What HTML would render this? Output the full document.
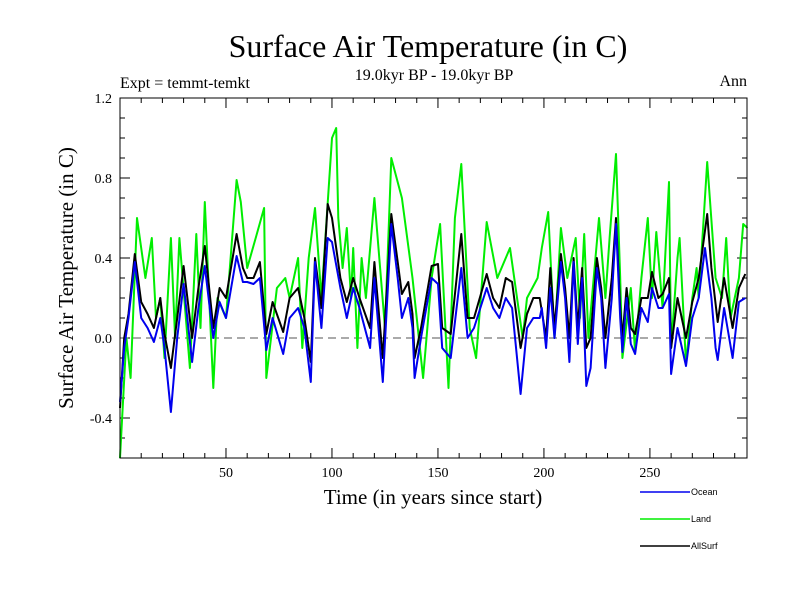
<!DOCTYPE html>
<html><head><meta charset="utf-8"><style>
body{margin:0;background:#fff;}
svg text{font-family:"Liberation Serif",serif;fill:#000;}
</style></head><body>
<svg id="chart" width="800" height="600" xmlns="http://www.w3.org/2000/svg">
<text x="428" y="57" font-size="32" text-anchor="middle">Surface Air Temperature (in C)</text>
<text x="434" y="80" font-size="16" text-anchor="middle">19.0kyr BP - 19.0kyr BP</text>
<text x="120" y="88" font-size="16">Expt = temmt-temkt</text>
<text x="747" y="86" font-size="16" text-anchor="end">Ann</text>
<text x="433" y="504" font-size="21" text-anchor="middle">Time (in years since start)</text>
<text transform="translate(73,278) rotate(-90)" font-size="21" text-anchor="middle">Surface Air Temperature (in C)</text>
<g id="ticks"></g>
<g id="series"></g>
<rect x="120" y="98" width="627" height="360" fill="none" stroke="#000" stroke-width="1"/>
<g id="legend"></g>
</svg>
<script>
const oceanYears=[0,2,4,7,10,13,16,19,21,24,27,30,34,37,40,44,47,50,55,58,60,63,66,69,72,77,80,84,87,90,92,95,98,100,104,107,110,113,118,120,124,128,131,133,136,138,139,142,147,150,152,156,161,164,167,173,176,179,182,185,189,192,195,198,199,201,203,205,208,210,212,214,216,218,220,222,225,227,229,232,234,236,237,239,241,243,246,249,251,254,256,259,260,263,267,270,273,276,279,281,282,285,289,292,295];
const oceanVals=[-0.32,-0.05,0.1,0.38,0.1,0.05,-0.02,0.1,-0.05,-0.37,0.0,0.27,-0.12,0.15,0.36,0.0,0.18,0.1,0.41,0.28,0.28,0.27,0.3,-0.06,0.1,-0.08,0.1,0.15,0.05,-0.22,0.38,0.05,0.5,0.48,0.25,0.1,0.25,0.15,-0.05,0.3,-0.22,0.57,0.3,0.1,0.2,0.05,-0.2,0.0,0.3,0.27,-0.05,-0.1,0.35,0.0,0.05,0.25,0.15,0.1,0.2,0.15,-0.28,0.05,0.1,0.1,0.15,-0.05,0.25,0.0,0.38,0.2,-0.12,0.38,-0.03,0.3,-0.24,-0.15,0.35,0.2,-0.15,0.2,0.57,0.1,-0.07,0.2,-0.03,-0.08,0.15,0.08,0.25,0.15,0.15,0.22,-0.18,0.05,-0.14,0.1,0.2,0.45,0.2,-0.05,-0.11,0.15,-0.1,0.18,0.2];
const landYears=[0,3,5,8,12,15,17,19,21,24,26,28,33,36,38,40,44,46,50,55,57,60,64,68,69,74,78,80,84,86,89,92,95,100,102,103,105,107,109,110,112,114,116,120,125,128,133,138,143,147,151,155,158,161,165,168,173,178,184,190,192,197,199,202,205,208,211,215,217,219,221,226,229,231,234,236,237,241,243,246,249,251,253,256,259,260,263,264,267,270,272,273,277,281,284,286,288,292,294,296];
const landVals=[-0.6,0.0,-0.2,0.6,0.3,0.5,0.1,0.2,-0.1,0.5,0.0,0.5,-0.15,0.52,0.05,0.68,-0.25,0.2,0.1,0.79,0.68,0.35,0.5,0.65,-0.2,0.25,0.3,0.2,0.4,-0.05,0.4,0.65,0.2,1.0,1.05,0.6,0.35,0.55,0.2,0.45,-0.05,0.4,0.2,0.7,0.05,0.9,0.7,0.3,-0.2,0.3,0.57,-0.25,0.6,0.87,0.05,-0.1,0.58,0.3,0.45,0.0,0.2,0.3,0.45,0.63,0.0,0.55,0.3,0.5,0.1,0.52,0.0,0.6,0.2,0.5,0.92,0.3,-0.1,0.25,-0.07,0.3,0.6,0.2,0.53,0.15,0.78,-0.05,0.4,0.5,-0.13,0.2,0.35,0.2,0.88,0.3,0.2,0.5,0.1,0.3,0.57,0.55];
const allYears=[0,2,4,7,10,13,16,19,21,24,27,30,34,37,40,44,47,50,55,58,60,63,66,69,72,77,80,84,87,90,92,95,98,100,104,107,110,113,118,120,124,128,131,133,136,138,139,142,147,150,152,156,161,164,167,173,176,179,182,185,189,192,195,198,201,203,205,208,210,212,214,216,218,220,222,225,227,229,232,234,236,237,239,241,243,246,249,251,254,256,259,260,263,267,270,273,277,279,282,285,289,292,295];
const allVals=[-0.35,0.0,0.12,0.42,0.18,0.12,0.05,0.2,0.02,-0.15,0.1,0.36,0.0,0.25,0.46,0.05,0.25,0.2,0.52,0.35,0.3,0.3,0.38,0.02,0.18,0.03,0.2,0.25,0.1,-0.12,0.4,0.15,0.67,0.6,0.3,0.18,0.3,0.2,0.05,0.38,-0.1,0.62,0.38,0.22,0.28,0.12,-0.1,0.05,0.36,0.37,0.05,0.02,0.52,0.1,0.1,0.32,0.2,0.15,0.3,0.28,-0.05,0.12,0.2,0.2,0.0,0.35,0.05,0.42,0.25,0.0,0.4,0.05,0.35,-0.05,0.0,0.4,0.25,0.0,0.3,0.6,0.15,0.0,0.25,0.05,0.02,0.2,0.2,0.33,0.2,0.22,0.3,-0.05,0.2,0.0,0.18,0.3,0.62,0.35,0.08,0.3,0.05,0.25,0.32];
const xTickLabels=[50,100,150,200,250];
const yTickLabels=[-0.4,0.0,0.4,0.8,1.2];

const X0=120,X1=747,Y0=98,Y1=458,XMIN=0,XMAX=295.8,YMIN=-0.6,YMAX=1.2;
const NS="http://www.w3.org/2000/svg";
function xs(v){return X0+(v-XMIN)/(XMAX-XMIN)*(X1-X0);}
function ys(v){return Y1-(v-YMIN)/(YMAX-YMIN)*(Y1-Y0);}
function mk(tag,attrs,parent){const e=document.createElementNS(NS,tag);for(const k in attrs)e.setAttribute(k,attrs[k]);parent.appendChild(e);return e;}
const ticks=document.getElementById('ticks');
for(let t=10;t<XMAX;t+=10){
  const major=t%50===0, len=major?10:5, x=xs(t);
  const a=mk('line',{x1:x,x2:x,y1:Y1,y2:Y1-len,stroke:'#000'},ticks);
  
  
  const b=mk('line',{x1:x,x2:x,y1:Y0,y2:Y0+len,stroke:'#000'},ticks);
  
  
}
xTickLabels.forEach(v=>{
  const t=mk('text',{x:xs(v),y:Y1+19,'font-size':14,'text-anchor':'middle'},ticks);t.textContent=v;
  
  
});
for(let i=-5;i<12;i++){
  const v=i/10, major=(i%4===0), len=major?10:5, y=ys(v);
  const a=mk('line',{x1:X0,x2:X0+len,y1:y,y2:y,stroke:'#000'},ticks);
  
  
  const b=mk('line',{x1:X1,x2:X1-len,y1:y,y2:y,stroke:'#000'},ticks);
  
  
}
yTickLabels.forEach(v=>{
  const t=mk('text',{x:X0-8,y:ys(v)+5,'font-size':14,'text-anchor':'end'},ticks);t.textContent=v.toFixed(1);
  
  
});
const zl=mk('line',{x1:X0,x2:X1,y1:ys(0),y2:ys(0),stroke:'#555','stroke-dasharray':'8,5'},ticks);


const ser=document.getElementById('series');
function line(yrs,vals,color,name){
  const d=yrs.map((y,i)=>(i?'L':'M')+xs(y).toFixed(1)+','+ys(vals[i]).toFixed(1)).join(' ');
  const p=mk('path',{d:d,fill:'none',stroke:color,'stroke-width':2,'stroke-linejoin':'round'},ser);
  
  
}
line(landYears,landVals,'#00ee00','land-line');
line(allYears,allVals,'#000000','allsurf-line');
line(oceanYears,oceanVals,'#0000ee','ocean-line');
const leg=document.getElementById('legend');
[['Ocean','#0000ee',492],['Land','#00ee00',519],['AllSurf','#000000',546]].forEach(([n,c,y])=>{
  const g=mk('g',{},leg);
  
  
  mk('line',{x1:640,x2:690,y1:y,y2:y,stroke:c,'stroke-width':1.5},g);
  const t=mk('text',{x:691,y:y+3,'font-size':9,style:'font-family:"Liberation Sans",sans-serif'},g);t.textContent=n;
});
</script>
</body></html>
